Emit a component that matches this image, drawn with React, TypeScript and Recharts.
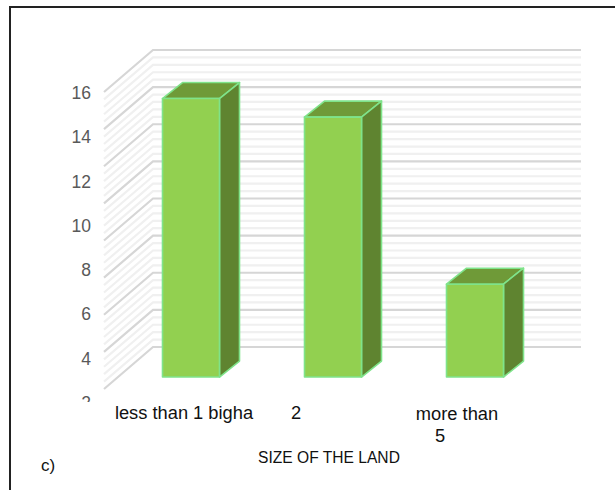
import React from "react";
import { Bar, BarChart, XAxis, YAxis } from "recharts";

const landSizes = ["less than 1 bigha", "2", "more than 5"];
const respondents = [15, 14, 5];
const axisLabels = [2, 4, 6, 8, 10, 12, 14, 16];
const majorGrid = [0, 2, 4, 6, 8, 10, 12, 14, 16];
const minorSteps = [0.4, 0.8, 1.2, 1.6];

const data = landSizes.map((name, i) => ({ name, value: respondents[i] }));
const gridTicks = [
  ...majorGrid,
  ...majorGrid.slice(0, -1).flatMap((v) => minorSteps.map((s) => v + s)),
];

const CHART_W = 615;
const CHART_H = 490;
const GRID_DOMAIN: [number, number] = [-1.508, 17.616];
const LABEL_DOMAIN: [number, number] = [1.82, 17.85];
const WALL_X = 104;
const BACK_X = 153;
const RIGHT_X = 581;

// one wall line plus its back-wall continuation, drawn per axis tick
const GridTick = ({ y, payload }: any) => {
  const major = majorGrid.includes(payload.value);
  return (
    <polyline
      points={`${WALL_X},${y + 12} ${BACK_X},${y - 30} ${RIGHT_X},${y - 30}`}
      fill="none"
      stroke={major ? "#d6d6d6" : "#f0f0f0"}
      strokeWidth={2.2}
    />
  );
};

// the lowest label is cut off by the plot's lower edge
const LabelTick = ({ y, payload }: any) => {
  const id = `label-clip-${payload.value}`;
  return (
    <g>
      <clipPath id={id}>
        <rect x={50} y={y - 14} width={60} height={payload.value === 2 ? 15 : 32} />
      </clipPath>
      <text
        x={91}
        y={y + 8}
        textAnchor="end"
        fill="#595959"
        fontSize={17.5}
        fontFamily="Liberation Sans"
        clipPath={`url(#${id})`}
      >
        {payload.value}
      </text>
    </g>
  );
};

const CategoryTick = ({ payload, index }: any) => {
  const font = { fill: "#111", fontSize: 18.3, fontFamily: "Liberation Sans", textAnchor: "middle" as const };
  if (index === 0) return <text x={184} y={419} {...font}>{payload.value}</text>;
  if (index === 1) return <text x={296} y={419} {...font}>{payload.value}</text>;
  return (
    <g>
      <text x={457} y={420} {...font}>more than</text>
      <text x={440} y={442} {...font}>5</text>
    </g>
  );
};

const Box3D = ({ x, y, width, height }: any) => {
  const dx = 20;
  const dy = 16;
  const edge = { stroke: "#7fe38a", strokeWidth: 1.6, strokeLinejoin: "round" as const };
  const r = x + width;
  const b = y + height;
  return (
    <g>
      <polygon points={`${x},${y} ${x + dx},${y - dy} ${r + dx},${y - dy} ${r},${y}`} fill="#6f9a38" {...edge} />
      <polygon points={`${r},${y} ${r + dx},${y - dy} ${r + dx},${b - dy} ${r},${b}`} fill="#5f8430" {...edge} />
      <rect x={x} y={y} width={width} height={height} fill="#92d050" {...edge} />
    </g>
  );
};

const layer: React.CSSProperties = { position: "absolute", left: 0, top: 0 };

export default function App() {
  return (
    <div style={{ position: "absolute", left: 0, top: 0, width: CHART_W, height: CHART_H, background: "#fff", overflow: "hidden" }}>
      <div style={{ position: "absolute", left: 9, top: 6, width: 606, height: 500, borderTop: "2px solid #222", borderLeft: "2px solid #222" }} />

      {/* walls and value labels sit in a layer behind the boxes */}
      <div style={layer}>
        <BarChart width={CHART_W} height={CHART_H} data={data} margin={{ top: 50, right: 69.5, bottom: 85, left: 117.5 }}>
          <XAxis dataKey="name" hide />
          <YAxis yAxisId="grid" width={1} domain={GRID_DOMAIN} ticks={gridTicks} interval={0} axisLine={false} tickLine={false} tick={<GridTick />} />
          <YAxis yAxisId="labels" width={1} domain={LABEL_DOMAIN} ticks={axisLabels} interval={0} axisLine={false} tickLine={false} tick={<LabelTick />} />
          <Bar yAxisId="grid" dataKey="value" fill="none" isAnimationActive={false} />
          <Bar yAxisId="labels" dataKey="value" fill="none" isAnimationActive={false} />
        </BarChart>
      </div>

      <div style={layer}>
        <BarChart width={CHART_W} height={CHART_H} data={data} barSize={57} margin={{ top: 50, right: 69.5, bottom: 84, left: 119.5 }}>
          <XAxis dataKey="name" height={1} axisLine={false} tickLine={false} tick={<CategoryTick />} interval={0} />
          <YAxis hide domain={GRID_DOMAIN} />
          <Bar dataKey="value" shape={<Box3D />} isAnimationActive={false} />
        </BarChart>
      </div>

      <div style={{ position: "absolute", left: 200, width: 258, top: 449, textAlign: "center", fontFamily: "Liberation Sans", fontSize: 15.6, color: "#111" }}>
        SIZE OF THE LAND
      </div>
      <div style={{ position: "absolute", left: 41, top: 456, fontFamily: "Liberation Sans", fontSize: 17, color: "#111" }}>c)</div>
    </div>
  );
}
